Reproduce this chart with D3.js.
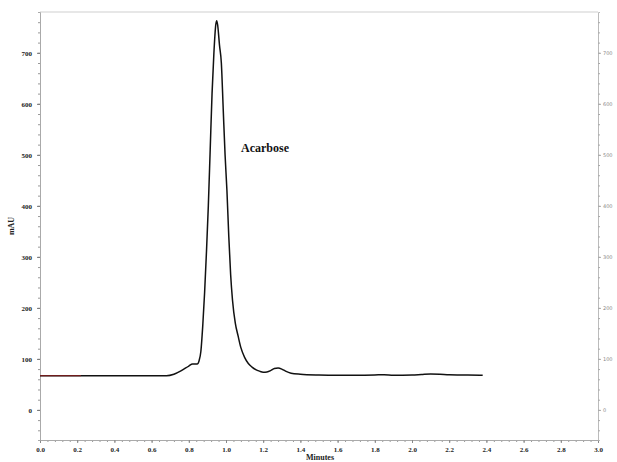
<!DOCTYPE html>
<html><head><meta charset="utf-8">
<script src="https://cdn.jsdelivr.net/npm/d3@7/dist/d3.min.js"></script>
<style>body{margin:0;background:#fff}svg{display:block}</style>
</head><body>
<script>
const times = [0.0,0.2,0.4,0.6,0.68,0.72,0.76,0.80,0.82,0.845,0.855,0.865,0.875,0.885,0.895,0.905,0.915,0.925,0.935,0.945,0.950,0.955,0.965,0.975,0.985,0.995,1.005,1.015,1.025,1.035,1.05,1.065,1.08,1.10,1.12,1.14,1.16,1.18,1.20,1.22,1.24,1.26,1.28,1.30,1.32,1.35,1.40,1.5,1.6,1.7,1.8,1.85,1.9,2.0,2.05,2.1,2.15,2.2,2.3,2.38];
const mAU   = [67,67,67,67,67,70,77,86,90,90,96,115,165,230,310,400,510,620,700,755,763,755,715,680,590,500,430,340,265,215,170,145,122,103,91,84,79,76,74,74.5,77,81,82,80,76,72,70,68.5,68,68,68.5,69,68,68.5,69.5,70.5,70,69,68.5,68];
const redTimes = [0.0,0.22];
const redVals = [67,67];
const xTicks = [0.0,0.2,0.4,0.6,0.8,1.0,1.2,1.4,1.6,1.8,2.0,2.2,2.4,2.6,2.8,3.0];
const yTicks = [0,100,200,300,400,500,600,700];
const peakLabel = "Acarbose";

const W=617,H=462;
const L=40,R=598,T=12,B=440;
const svg=d3.select("body").append("svg").attr("width",W).attr("height",H);
const x=d3.scaleLinear().domain([0,3]).range([L,R]);
const y=d3.scaleLinear().domain([-59,780]).range([B,T]);

// frame
svg.append("line").attr("x1",L).attr("x2",R).attr("y1",T).attr("y2",T).attr("stroke","#cfcfcf").attr("stroke-width",1);
const serif="'Liberation Serif','Times New Roman',serif";

// bottom axis
const xMinor=d3.range(0,3.0001,0.04);
const gx=svg.append("g").attr("transform",`translate(0,${B})`);
gx.call(d3.axisBottom(x).tickValues(xMinor).tickSize(2).tickFormat(""));
gx.call(g=>g.selectAll(".tick line").attr("stroke","#999"));
const gx2=svg.append("g").attr("transform",`translate(0,${B})`);
gx2.call(d3.axisBottom(x).tickValues(xTicks).tickSize(3).tickFormat(d3.format(".1f")));
gx2.selectAll(".tick text").attr("font-family",serif).attr("font-weight","bold").attr("font-size",7).attr("fill","#222").attr("dy","0.9em");
gx2.selectAll(".tick line").attr("stroke","#888");
svg.selectAll("g .domain").attr("stroke","#aaa");

// left axis
const yMinor=d3.range(-40,780,20);
const gy=svg.append("g").attr("transform",`translate(${L},0)`);
gy.call(d3.axisLeft(y).tickValues(yMinor).tickSize(2).tickFormat(""));
gy.selectAll(".tick line").attr("stroke","#999");
gy.select(".domain").attr("stroke","#aaa");
const gy2=svg.append("g").attr("transform",`translate(${L},0)`);
gy2.call(d3.axisLeft(y).tickValues(yTicks).tickSize(3).tickFormat(d3.format("d")));
gy2.select(".domain").remove();
gy2.selectAll(".tick line").attr("stroke","#777");
gy2.selectAll(".tick text").attr("font-family",serif).attr("font-weight","bold").attr("font-size",7).attr("fill","#222").attr("x",-8);

// right axis
const gr=svg.append("g").attr("transform",`translate(${R},0)`);
gr.call(d3.axisRight(y).tickValues(yMinor).tickSize(2).tickFormat(""));
gr.selectAll(".tick line").attr("stroke","#aaa");
gr.select(".domain").attr("stroke","#bbb");
const gr2=svg.append("g").attr("transform",`translate(${R},0)`);
gr2.call(d3.axisRight(y).tickValues(yTicks).tickSize(3).tickFormat(d3.format("d")));
gr2.select(".domain").remove();
gr2.selectAll(".tick line").attr("stroke","#aaa");
gr2.selectAll(".tick text").attr("font-family","'DejaVu Sans',sans-serif").attr("font-size",5).attr("fill","#888").attr("x",5);

// trace
const line=d3.line().x(d=>x(d[0])).y(d=>y(d[1])).curve(d3.curveMonotoneX);
svg.append("path").datum(times.map((t,i)=>[t,mAU[i]])).attr("d",line).attr("fill","none").attr("stroke","#111").attr("stroke-width",1.5);
svg.append("path").datum(redTimes.map((t,i)=>[t,redVals[i]])).attr("d",line).attr("fill","none").attr("stroke","#8b2020").attr("stroke-width",1);

// labels
svg.append("text").attr("x",241).attr("y",152).text(peakLabel).attr("font-family",serif).attr("font-weight","bold").attr("font-size",12).attr("fill","#111");
svg.append("text").attr("transform",`translate(14,${(T+B)/2}) rotate(-90)`).attr("text-anchor","middle").text("mAU").attr("font-family",serif).attr("font-weight","bold").attr("font-size",8).attr("fill","#222");
svg.append("text").attr("x",320).attr("y",460).attr("text-anchor","middle").text("Minutes").attr("font-family",serif).attr("font-weight","bold").attr("font-size",8).attr("fill","#222");
</script>
</body></html>
